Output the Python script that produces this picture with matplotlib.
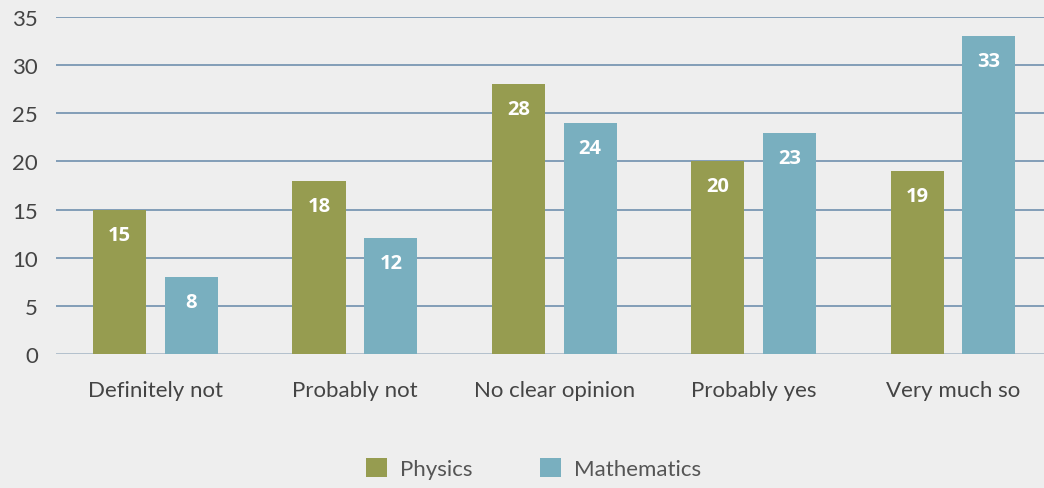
"""Grouped bar chart: Physics vs Mathematics opinions."""

import matplotlib.pyplot as plt
import numpy as np

categories = ["Definitely not", "Probably not", "No clear opinion", "Probably yes", "Very much so"]
physics = [15, 18, 28, 20, 19]
mathematics = [8, 12, 24, 23, 33]
y_ticks = [0, 5, 10, 15, 20, 25, 30, 35]

PHYS_COLOR = "#969c50"
MATH_COLOR = "#79afbf"
TEXT_COLOR = "#444444"

plt.rcParams["font.family"] = ["Lato", "DejaVu Sans"]

fig = plt.figure(figsize=(10.44, 4.89), dpi=100, facecolor="#eeeeee")
ax = fig.add_axes([56 / 1044, 134 / 489, 988 / 1044, 337 / 489])
ax.set_facecolor("none")

x = np.arange(len(categories))
width = 0.266
offset = 0.18

bars_p = ax.bar(x - offset, physics, width, color=PHYS_COLOR, label="Physics", zorder=3)
bars_m = ax.bar(x + offset, mathematics, width, color=MATH_COLOR, label="Mathematics", zorder=3)

for bars in (bars_p, bars_m):
    for bar in bars:
        ax.annotate(
            f"{int(bar.get_height())}",
            xy=(bar.get_x() + bar.get_width() / 2, bar.get_height()),
            xytext=(0, -18),
            textcoords="offset points",
            ha="center",
            va="center",
            color="white",
            fontsize=14.5,
            fontweight="bold",
            family=["Open Sans", "DejaVu Sans"],
            zorder=4,
        )

ax.set_ylim(0, 35)
ax.set_xlim(-0.499, 4.456)
ax.set_yticks(y_ticks)
ax.set_xticks(x)
ax.set_xticklabels(categories)

for t in y_ticks:
    ax.axhline(t, color="#a3b4c4" if t == 0 else "#6488a8", linewidth=1.1, zorder=1)

for spine in ax.spines.values():
    spine.set_visible(False)
ax.tick_params(axis="y", length=0, pad=13, labelsize=16, labelcolor=TEXT_COLOR)
ax.tick_params(axis="x", length=0, pad=19, labelsize=16, labelcolor=TEXT_COLOR)

legend = fig.legend(
    loc="center",
    bbox_to_anchor=(0.511, 0.04),
    ncol=2,
    frameon=False,
    fontsize=16,
    handlelength=0.95,
    handleheight=0.95,
    columnspacing=3.0,
    handletextpad=0.6,
)
for text in legend.get_texts():
    text.set_color("#555555")

fig.savefig("out.png", dpi=100, facecolor=fig.get_facecolor())
